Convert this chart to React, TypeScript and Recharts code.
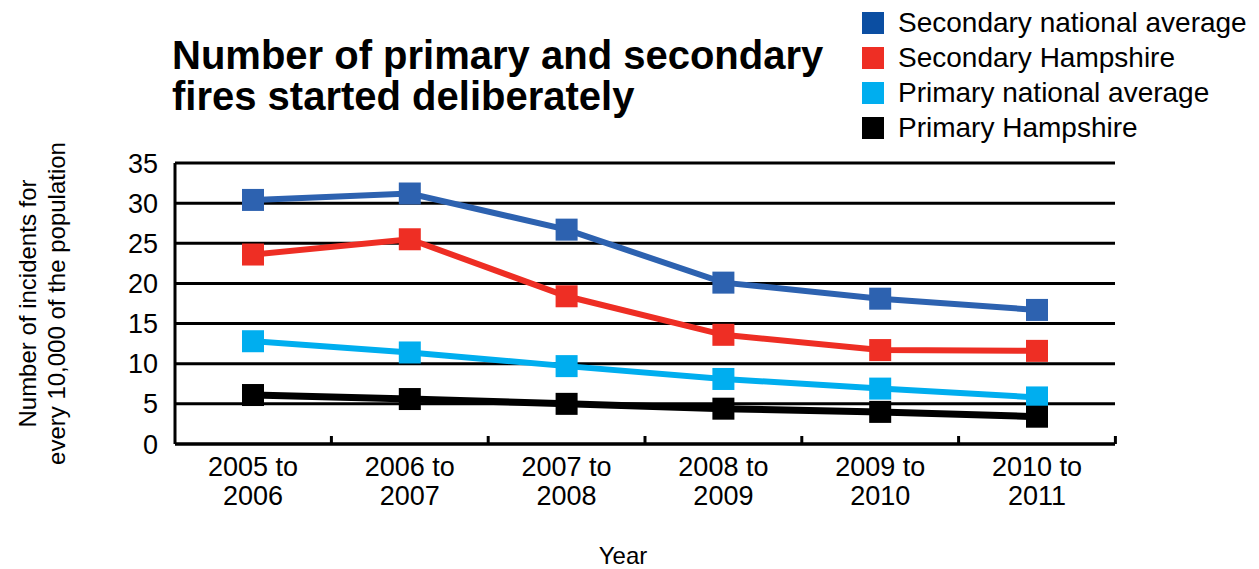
import React from 'react';
import { LineChart, Line, CartesianGrid, XAxis, YAxis } from 'recharts';

const categories = ['2005 to 2006', '2006 to 2007', '2007 to 2008', '2008 to 2009', '2009 to 2010', '2010 to 2011'];
const secondaryNational = [30.4, 31.2, 26.7, 20.1, 18.1, 16.7];
const secondaryHampshire = [23.6, 25.5, 18.4, 13.6, 11.7, 11.6];
const primaryNational = [12.8, 11.4, 9.7, 8.1, 6.9, 5.8];
const primaryHampshire = [6.1, 5.6, 5.0, 4.4, 4.0, 3.4];
const yTicks = [0, 5, 10, 15, 20, 25, 30, 35];

const series = [
  { key: 'secNat', name: 'Secondary national average', values: secondaryNational, color: '#2d62b0', legend: '#0b4ea2', width: 6 },
  { key: 'secHants', name: 'Secondary Hampshire', values: secondaryHampshire, color: '#ee2e24', legend: '#ee2e24', width: 6 },
  { key: 'priNat', name: 'Primary national average', values: primaryNational, color: '#00aeef', legend: '#00aeef', width: 6 },
  { key: 'priHants', name: 'Primary Hampshire', values: primaryHampshire, color: '#000000', legend: '#000000', width: 7 },
];

const data = categories.map((name, i) => {
  const row: Record<string, string | number> = { name };
  series.forEach((s) => (row[s.key] = s.values[i]));
  return row;
});

const FONT = '"Liberation Sans", Arial, Helvetica, sans-serif';
const W = 1259;
const H = 569;
const X_AXIS_H = 30;
const MARGIN = { top: 163, right: 144, bottom: 125 - X_AXIS_H, left: 115 };
const Y_AXIS_W = 60;
const PLOT_W = W - MARGIN.left - MARGIN.right - Y_AXIS_W;
const PAD = 78;
const STEP = (PLOT_W - 2 * PAD) / (categories.length - 1);

const XTick = (props: any) => {
  const { x, y, payload } = props;
  const label: string = payload.value;
  const cut = label.lastIndexOf(' ');
  const l1 = label.slice(0, cut);
  const l2 = label.slice(cut + 1);
  return (
    <g>
      <line x1={x + STEP / 2} x2={x + STEP / 2} y1={y} y2={y - 8} stroke="#000" strokeWidth={3} />
      <text x={x} y={y + 32} textAnchor="middle" fontSize={27} fill="#000" fontFamily={FONT}>
        {l1}
      </text>
      <text x={x} y={y + 61} textAnchor="middle" fontSize={27} fill="#000" fontFamily={FONT}>
        {l2}
      </text>
    </g>
  );
};

const YLabel = (props: any) => {
  const vb = props.viewBox || {};
  const cy = vb.y + vb.height / 2;
  return (
    <g fontFamily={FONT} fontSize={24} fill="#000">
      <text x={36} y={cy} textAnchor="middle" transform={`rotate(-90 36 ${cy})`}>
        Number of incidents for
      </text>
      <text x={65} y={cy} textAnchor="middle" transform={`rotate(-90 65 ${cy})`}>
        every 10,000 of the population
      </text>
    </g>
  );
};

const XLabel = (props: any) => {
  const vb = props.viewBox || {};
  return (
    <text x={623} y={vb.y + 120} textAnchor="middle" fontFamily={FONT} fontSize={24} fill="#000">
      Year
    </text>
  );
};

const LegendBlock = () => (
  <div style={{ position: 'absolute', left: 862, top: 5, fontFamily: FONT, fontSize: 28, color: '#000', whiteSpace: 'nowrap' }}>
    {series.map((s) => (
      <div key={s.key} style={{ display: 'flex', alignItems: 'center', height: 35 }}>
        <span style={{ display: 'inline-block', width: 22, height: 22, background: s.legend, marginRight: 14 }} />
        <span>{s.name}</span>
      </div>
    ))}
  </div>
);

const squareDot = (color: string, key: string) => (p: any) => {
  if (p.cx == null || p.cy == null) return <g key={`${key}-${p.index}`} />;
  return <rect key={`${key}-${p.index}`} x={p.cx - 11} y={p.cy - 11} width={22} height={22} fill={color} />;
};

export default function App() {
  return (
    <div style={{ position: 'absolute', left: 0, top: 0, width: W, height: H, background: '#fff' }}>
      <LineChart width={W} height={H} data={data} margin={MARGIN}>
        <CartesianGrid vertical={false} stroke="#000" strokeWidth={3} />
        <XAxis
          dataKey="name"
          height={X_AXIS_H}
          padding={{ left: PAD, right: PAD }}
          axisLine={{ stroke: '#000', strokeWidth: 3 }}
          tickLine={false}
          tickSize={0}
          tickMargin={0}
          interval={0}
          tick={<XTick />}
          label={<XLabel />}
        />
        <YAxis
          width={Y_AXIS_W}
          domain={[0, 35]}
          ticks={yTicks}
          interval={0}
          axisLine={{ stroke: '#000', strokeWidth: 3 }}
          tickLine={false}
          tickSize={0}
          tickMargin={17}
          tick={{ fontSize: 27, fill: '#000', fontFamily: FONT }}
          label={<YLabel />}
        />
        {series.map((s) => (
          <Line
            key={s.key}
            dataKey={s.key}
            name={s.name}
            stroke={s.color}
            strokeWidth={s.width}
            dot={squareDot(s.color, s.key)}
            activeDot={false}
            isAnimationActive={false}
            strokeLinejoin="miter"
          />
        ))}
      </LineChart>
      <div
        style={{
          position: 'absolute',
          left: 172,
          top: 35,
          fontFamily: FONT,
          fontWeight: 'bold',
          fontSize: 40,
          lineHeight: '41px',
          color: '#000',
          whiteSpace: 'nowrap',
        }}
      >
        Number of primary and secondary
        <br />
        fires started deliberately
      </div>
      <LegendBlock />
    </div>
  );
}
